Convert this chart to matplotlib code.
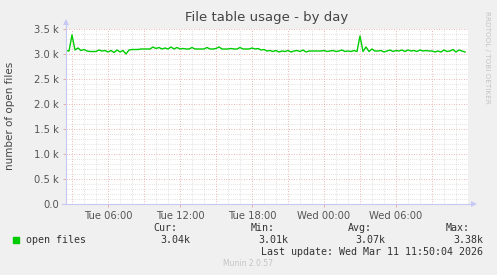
import matplotlib
matplotlib.use("Agg")
import matplotlib.pyplot as plt
import numpy as np

# ---- data ----
start_hour = 2.5          # Tue 02:30 (hours since Tue 00:00)
step_hour = 0.25
open_files_k = [
    3.07, 3.06, 3.38, 3.08, 3.12, 3.07, 3.09, 3.06, 3.05, 3.05,
    3.05, 3.08, 3.06, 3.07, 3.04, 3.07, 3.03, 3.08, 3.04, 3.07,
    3.00, 3.08, 3.09, 3.09, 3.09, 3.10, 3.10, 3.10, 3.10, 3.14,
    3.11, 3.13, 3.10, 3.12, 3.10, 3.14, 3.10, 3.13, 3.10, 3.11,
    3.10, 3.10, 3.13, 3.10, 3.10, 3.10, 3.10, 3.13, 3.10, 3.10,
    3.11, 3.14, 3.10, 3.10, 3.10, 3.11, 3.10, 3.10, 3.13, 3.10,
    3.10, 3.10, 3.12, 3.10, 3.11, 3.08, 3.09, 3.06, 3.07, 3.05,
    3.07, 3.04, 3.06, 3.05, 3.07, 3.04, 3.06, 3.07, 3.05, 3.08,
    3.04, 3.06, 3.06, 3.06, 3.06, 3.06, 3.07, 3.05, 3.06, 3.07,
    3.05, 3.06, 3.08, 3.05, 3.06, 3.05, 3.07, 3.05, 3.36, 3.05,
    3.14, 3.05, 3.10, 3.06, 3.06, 3.07, 3.04, 3.06, 3.08, 3.05,
    3.07, 3.06, 3.08, 3.05, 3.08, 3.06, 3.07, 3.05, 3.08, 3.06,
    3.07, 3.06, 3.06, 3.04, 3.06, 3.04, 3.08, 3.05, 3.06, 3.09,
    3.04, 3.08, 3.06, 3.04,
]
xtick_hours = [6, 12, 18, 24, 30]
xtick_labels = ["Tue 06:00", "Tue 12:00", "Tue 18:00", "Wed 00:00", "Wed 06:00"]
ytick_values = [0, 500, 1000, 1500, 2000, 2500, 3000, 3500]
ytick_labels = ["0.0", "0.5 k", "1.0 k", "1.5 k", "2.0 k", "2.5 k", "3.0 k", "3.5 k"]
legend_name = "open files"
stat_names = ["Cur:", "Min:", "Avg:", "Max:"]
stat_values = ["3.04k", "3.01k", "3.07k", "3.38k"]
last_update = "Last update: Wed Mar 11 11:50:04 2026"

t = start_hour + step_hour * np.arange(len(open_files_k))
y = np.array(open_files_k) * 1000

W, H = 497, 275
fig = plt.figure(figsize=(W / 100, H / 100), dpi=100)
fig.patch.set_facecolor("#F0F0F0")

L, R, T, B = 66, 468, 29, 204
ax = fig.add_axes([L / W, 1 - B / H, (R - L) / W, (B - T) / H])
ax.set_facecolor("#FFFFFF")
x0, x1 = start_hour, start_hour + (R - L) / 12.0
ax.set_xlim(x0, x1)
ax.set_ylim(0, 3500)
for s in ax.spines.values():
    s.set_visible(False)

# grid
minor_c = "#C8C8C8"
major_c = "#E3A0A0"
for v in np.arange(0, 3501, 100):
    if v % 500 != 0:
        ax.axhline(v, color=minor_c, lw=0.5, ls=(0, (1, 2)), zorder=1)
for h in np.arange(np.ceil(x0), x1 + 0.01, 1.0):
    if h % 3 != 0:
        ax.axvline(h, color=minor_c, lw=0.5, ls=(0, (1, 2)), zorder=1)
for v in np.arange(500, 3501, 500):
    ax.axhline(v, color=major_c, lw=0.6, ls=(0, (1, 2)), zorder=2)
for h in np.arange(3, x1 + 0.01, 3.0):
    ax.axvline(h, color=major_c, lw=0.6, ls=(0, (1, 2)), zorder=2)

ax.plot(t, y, color="#00CC00", lw=1.0, zorder=5)

ax.set_xticks(xtick_hours)
ax.set_xticklabels(xtick_labels)
ax.set_yticks(ytick_values)
ax.set_yticklabels(ytick_labels)
ax.tick_params(axis="both", colors="#E3A0A0", length=2, width=0.6,
               labelcolor="#555555", labelsize=7.2, pad=3)

# axis lines with arrows
axis_c = "#C8C8F5"
fig.add_artist(plt.Line2D([L / W, L / W], [1 - B / H, 1 - 22 / H], color=axis_c, lw=0.8))
fig.add_artist(plt.Line2D([62 / W, 474 / W], [1 - B / H, 1 - B / H], color=axis_c, lw=0.8))
fig.add_artist(plt.Line2D([L / W], [1 - 22 / H], marker="^", color=axis_c, ms=4, mew=0))
fig.add_artist(plt.Line2D([474 / W], [1 - B / H], marker=">", color=axis_c, ms=4, mew=0))

# texts
fig.text(267 / W, 1 - 18 / H, "File table usage - by day", ha="center", va="center",
         fontsize=9.5, color="#444444")
fig.text(10 / W, 1 - 116 / H, "number of open files", rotation=90, ha="center",
         va="center", fontsize=7.5, color="#444444")
fig.text(487 / W, 1 - 57 / H, "RRDTOOL / TOBI OETIKER", rotation=270, ha="center",
         va="center", fontsize=5.2, color="#C4C4C4")

mono = "DejaVu Sans Mono"
fs = 7.2
fig.patches.append(plt.Rectangle((13 / W, 1 - 243 / H), 6 / W, 6 / H,
                                 transform=fig.transFigure, color="#00CC00"))
fig.text(26 / W, 1 - 240 / H, legend_name, family=mono, fontsize=fs, color="#333333",
         ha="left", va="center")
name_right = [177, 275, 372, 470]
val_right = [190, 288, 385, 483]
for nm, vv, nr, vr in zip(stat_names, stat_values, name_right, val_right):
    fig.text(nr / W, 1 - 228 / H, nm, family=mono, fontsize=fs, color="#333333",
             ha="right", va="center")
    fig.text(vr / W, 1 - 240 / H, vv, family=mono, fontsize=fs, color="#333333",
             ha="right", va="center")
fig.text(483 / W, 1 - 252 / H, last_update, family=mono, fontsize=fs, color="#333333",
         ha="right", va="center")
fig.text(248 / W, 1 - 264 / H, "Munin 2.0.57", fontsize=5.5, color="#C4C4C4",
         ha="center", va="center")

fig.savefig("out.png", dpi=100, facecolor=fig.get_facecolor())
